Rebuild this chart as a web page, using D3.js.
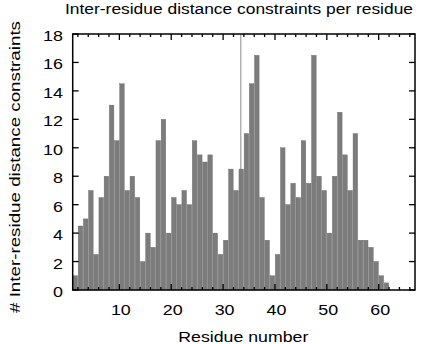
<!DOCTYPE html>
<html><head><meta charset="utf-8">
<script src="https://cdn.jsdelivr.net/npm/d3@7"></script>
<style>
body{margin:0;background:#fff}
text{font-family:"Liberation Sans",Arial,Helvetica,sans-serif;fill:#000}
</style>
</head><body>
<svg id="c" width="424" height="344"></svg>
<script>
const residues = d3.range(1, 62);
const constraints = [
  1,4.5,5,7,2.5,6.5,8,13,10.5,14.5,
  7,8,6.5,2,4,3,10.5,12,4,6.5,
  6,7,6,10.5,9.5,9,9.5,4,2.5,3.5,
  8.5,7,8.5,11,14.5,16.5,6.5,3.5,1,2.5,
  10,6,7.5,6.5,10.5,7.5,16.5,8,7,4,
  8,12.5,9.5,7,11,3.5,3.5,3,2,1,0.5
];
const xTicks = [10,20,30,40,50,60];
const xMinorTicks = d3.range(2, 67, 2);
const yTicks = [0,2,4,6,8,10,12,14,16,18];
const markerResidues = [33.4];
const titleText = "Inter-residue distance constraints per residue";
const xLabelText = "Residue number";
const yLabelText = "# Inter-residue distance constraints";

const L = 72.7, R = 415, T = 34, B = 290;
const SX = 1.28;
const svg = d3.select("#c");
const x = d3.scaleLinear().domain([1, 67]).range([L, R]);
const y = d3.scaleLinear().domain([0, 18]).range([B, T]);

// marker line (behind bars)
svg.selectAll("line.marker").data(markerResidues).join("line")
  .attr("class","marker")
  .attr("x1", d => x(d)).attr("x2", d => x(d))
  .attr("y1", y(18)).attr("y2", y(0))
  .attr("stroke", "#b2b2b2").attr("stroke-width", 1.5);

// bars
svg.selectAll("rect.bar").data(residues).join("rect")
  .attr("class","bar")
  .attr("x", d => x(d) + 0.3)
  .attr("width", d => x(d + 1) - x(d) - 0.6)
  .attr("y", (d, i) => y(constraints[i]))
  .attr("height", (d, i) => y(0) - y(constraints[i]))
  .attr("fill", "#7c7c7c")
  .attr("stroke", "#6a6a6a").attr("stroke-width", 0.4);

// ticks (inward, all four sides)
const tk = svg.append("g").attr("stroke", "#000").attr("stroke-width", 1.3);
xMinorTicks.forEach(t => {
  const len = (t % 10 === 0) ? 6 : 3;
  tk.append("line").attr("x1", x(t)).attr("x2", x(t)).attr("y1", y(0)).attr("y2", y(0) - len);
  tk.append("line").attr("x1", x(t)).attr("x2", x(t)).attr("y1", y(18)).attr("y2", y(18) + len);
});
yTicks.forEach(t => {
  tk.append("line").attr("x1", L).attr("x2", L + 6).attr("y1", y(t)).attr("y2", y(t));
  tk.append("line").attr("x1", R).attr("x2", R - 6).attr("y1", y(t)).attr("y2", y(t));
});

// frame
svg.append("rect").attr("x", L).attr("y", T).attr("width", R - L).attr("height", B - T)
  .attr("fill", "none").attr("stroke", "#000").attr("stroke-width", 1.5);

// tick labels
svg.selectAll("text.xt").data(xTicks).join("text")
  .attr("class","xt")
  .attr("transform", d => `translate(${x(d) + 1.5},315) scale(${SX},1)`)
  .attr("text-anchor", "middle").attr("font-size", 14)
  .text(d => d);
svg.selectAll("text.yt").data(yTicks).join("text")
  .attr("class","yt")
  .attr("transform", d => `translate(63,${y(d) + 7}) scale(${SX},1)`)
  .attr("text-anchor", "end").attr("font-size", 14)
  .text(d => d);

// titles
svg.append("text").attr("x", 239).attr("y", 13.5)
  .attr("text-anchor", "middle").attr("font-size", 14)
  .attr("textLength", 348).attr("lengthAdjust", "spacingAndGlyphs")
  .text(titleText);
svg.append("text").attr("x", 243.3).attr("y", 342)
  .attr("text-anchor", "middle").attr("font-size", 14)
  .attr("textLength", 130).attr("lengthAdjust", "spacingAndGlyphs")
  .text(xLabelText);
svg.append("text").attr("transform", "translate(20,167) rotate(-90)")
  .attr("text-anchor", "middle").attr("font-size", 14)
  .attr("textLength", 292).attr("lengthAdjust", "spacingAndGlyphs")
  .text(yLabelText);
</script>
</body></html>
